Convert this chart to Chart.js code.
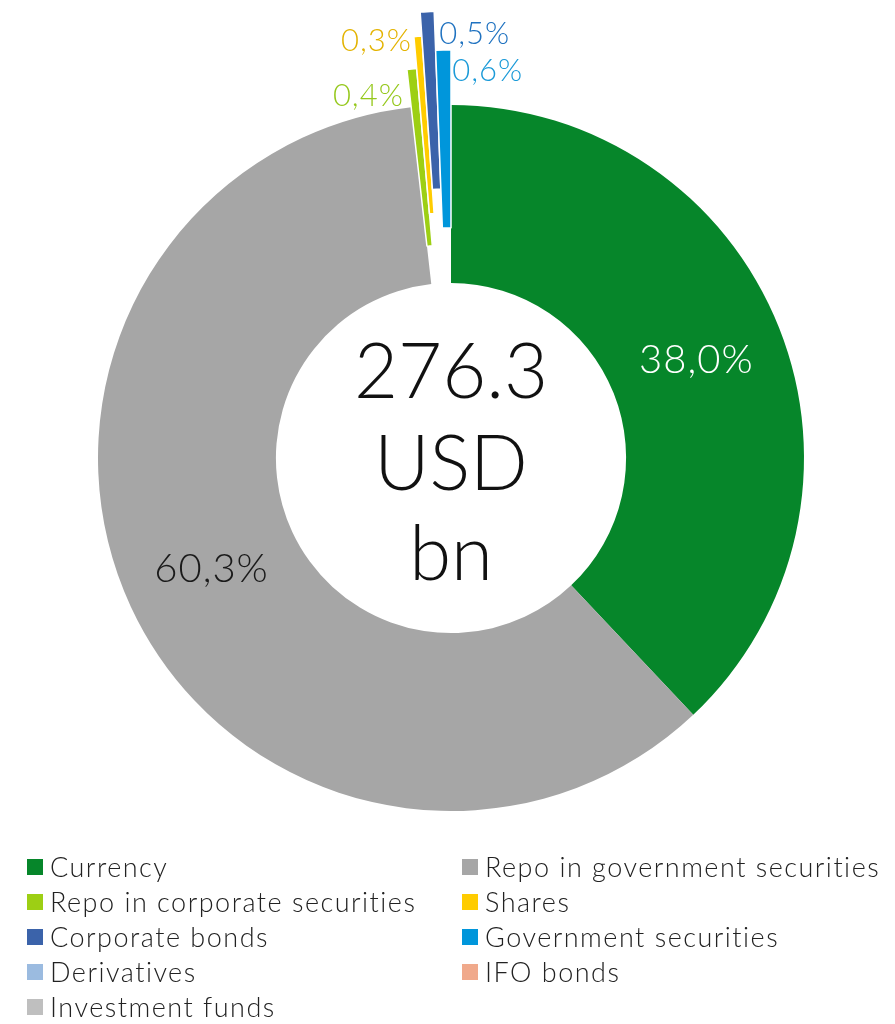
<!DOCTYPE html>
<html>
<head>
<meta charset="utf-8">
<script src="https://cdn.jsdelivr.net/npm/chart.js@4.4.0/dist/chart.umd.min.js"></script>
<style>
    body { margin: 0; background: #fff; font-family: Lato, 'Open Sans', sans-serif; font-weight: 300; }
    #wrap { position: relative; width: 895px; height: 1024px; overflow: hidden; }
    #chart-box { position: absolute; left: 0; top: 0; width: 895px; height: 916px; }
    #legend { position: absolute; left: 27px; top: 849px; display: grid; grid-template-columns: 435px 430px; }
    .item { display: flex; align-items: center; height: 35px; font-size: 27px; letter-spacing: 1.5px; color: #222; white-space: nowrap; }
    .box { width: 16px; height: 16px; margin-right: 7px; flex: none; }
</style>
</head>
<body>
<div id="wrap">
    <div id="chart-box"><canvas id="structure"></canvas></div>
    <div id="legend"></div>
</div>
<script>
// chart data
const categories = [
    'Currency',
    'Repo in government securities',
    'Repo in corporate securities',
    'Shares',
    'Corporate bonds',
    'Government securities',
    'Derivatives',
    'IFO bonds',
    'Investment funds'
];
const shares = [38.0, 60.3, 0.4, 0.3, 0.5, 0.6, 0, 0, 0];
const totalLines = ['276.3', 'USD', 'bn'];

// styling
const colors = ['#06862a', '#a6a6a6', '#9dcf14', '#ffcc00', '#3b63aa', '#0096db', '#9bbbe0', '#f0a98b', '#bfbfbf'];
const labelColors = ['#ffffff', '#1a1a1a', '#95c81c', '#e3b300', '#1f72c0', '#1a9ad8', '#000', '#000', '#000'];
// radial pull-out of the small slices, px
const explode = [0, 0, 38, 70, 94, 55, 0, 0, 0];
// where small labels sit relative to the tip of their bar: [dx, dy, align]
const tipLabel = {
    2: [-8, 27, 'right'],
    3: [-6, 5, 'right'],
    4: [12, 22, 'left'],
    5: [9, 21, 'left']
};

function pct(v) {
    return v.toFixed(1).replace('.', ',') + '%';
}

// push the small slices outward, keeping their angle
const explodeSlices = {
    id: 'explodeSlices',
    afterDatasetUpdate(chart, args) {
        args.meta.data.forEach((arc, i) => {
            if (!explode[i]) return;
            arc.innerRadius += explode[i];
            arc.outerRadius += explode[i];
        });
    }
};

const sliceLabels = {
    id: 'sliceLabels',
    afterDatasetsDraw(chart) {
        const ctx = chart.ctx;
        const meta = chart.getDatasetMeta(0);
        meta.data.forEach((arc, i) => {
            if (!shares[i]) return;
            ctx.save();
            ctx.fillStyle = labelColors[i];
            ctx.textBaseline = 'middle';
            if (tipLabel[i]) {
                const mid = (arc.startAngle + arc.endAngle) / 2;
                const tx = arc.x + Math.cos(mid) * arc.outerRadius;
                const ty = arc.y + Math.sin(mid) * arc.outerRadius;
                ctx.font = '300 31px Lato, "Open Sans", sans-serif';
                ctx.letterSpacing = '1px';
                ctx.textAlign = tipLabel[i][2];
                ctx.fillText(pct(shares[i]), tx + tipLabel[i][0], ty + tipLabel[i][1]);
            } else {
                const p = arc.getCenterPoint();
                ctx.font = '300 40px Lato, "Open Sans", sans-serif';
                ctx.letterSpacing = '1px';
                ctx.textAlign = 'center';
                ctx.fillText(pct(shares[i]), p.x, p.y);
            }
            ctx.restore();
        });
    }
};

const centerText = {
    id: 'centerText',
    afterDatasetsDraw(chart) {
        const ctx = chart.ctx;
        const arc = chart.getDatasetMeta(0).data[0];
        const shift = [-60, 32, 122];
        ctx.save();
        ctx.font = '300 76px Lato, "Open Sans", sans-serif';
        ctx.fillStyle = '#111';
        ctx.textAlign = 'center';
        ctx.textBaseline = 'alphabetic';
        totalLines.forEach((t, k) => ctx.fillText(t, arc.x, arc.y + shift[k]));
        ctx.restore();
    }
};

new Chart(document.getElementById('structure'), {
    type: 'doughnut',
    data: {
        labels: categories,
        datasets: [{
            data: shares,
            backgroundColor: colors,
            borderColor: '#ffffff',
            borderWidth: [0, 0, 1.5, 1.5, 1.5, 1.5, 0, 0, 0],
            hoverOffset: 0
        }]
    },
    options: {
        responsive: true,
        maintainAspectRatio: false,
        animation: false,
        radius: 353,
        cutout: '49.6%',
        layout: { padding: { left: 7 } },
        plugins: {
            legend: { display: false },
            tooltip: { enabled: false }
        },
        events: []
    },
    plugins: [explodeSlices, sliceLabels, centerText]
});

// html legend in two columns
const legend = document.getElementById('legend');
categories.forEach((name, i) => {
    const item = document.createElement('div');
    item.className = 'item';
    item.innerHTML = '<span class="box" style="background:' + colors[i] + '"></span>' + name;
    legend.appendChild(item);
});
</script>
</body>
</html>
